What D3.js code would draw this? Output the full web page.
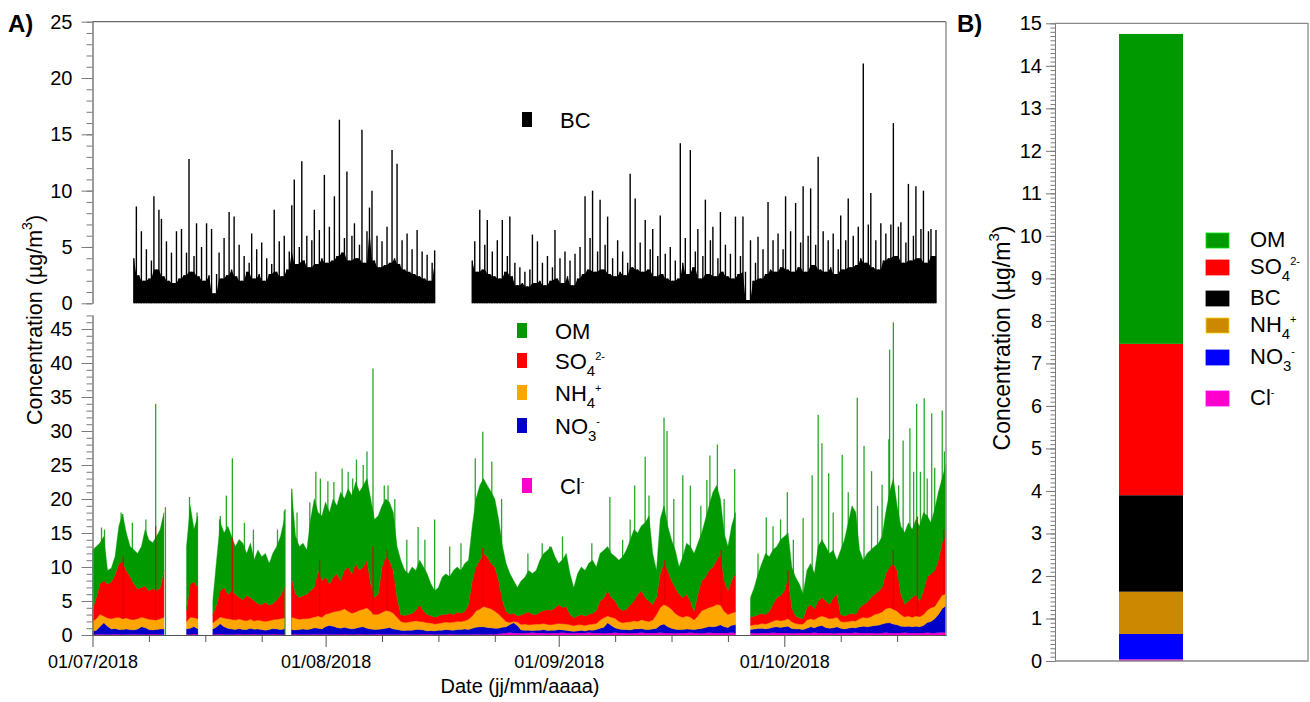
<!DOCTYPE html>
<html><head><meta charset="utf-8">
<script src="https://cdn.jsdelivr.net/npm/d3@7"></script>
<style>
body{margin:0;background:#fff;}
svg{display:block;}
</style></head><body>
<svg id="chart" width="1310" height="702"></svg>
<script>
// ---------------- DATA ----------------
const N = null;
const startDate = "2018-07-01";
const chemStepDays = 0.5;           // one value every 12 h, from 01/07/2018
// each line = 5 days (10 half-day values); null = no measurement
const om = [
 8.8,7.5,6.0,6.5,2.0,2.0,2.7,5.5,7.0,5.5,
 4.4,5.0,5.2,6.0,8.3,7.5,6.7,8.0,8.5,8.5,
 N,N,N,N,N,9.3,11.5,7.7,10.5,N,
 N,N,2.0,6.5,10.0,8.0,10.0,8.0,7.0,8.5,
 8.3,6.2,8.0,6.0,7.9,7.0,7.2,6.1,7.4,7.8,
 8.7,10.0,N,12.6,8.5,7.5,7.7,6.5,10.5,13.0,
 8.5,9.5,11.0,10.5,11.5,10.0,13.0,10.5,11.5,11.5,
 12.0,11.5,12.0,12.0,12.5,11.5,11.5,9.0,8.5,8.5,
 8.5,7.5,8.0,6.7,6.0,6.8,5.9,6.5,6.5,6.0,
 4.7,3.9,4.2,5.5,6.0,5.3,6.5,6.6,6.3,7.0,
 6.5,8.0,10.0,11.0,11.0,10.5,10.5,10.0,9.0,8.0,
 7.0,6.0,4.8,4.2,5.0,5.3,6.1,6.0,6.5,7.6,
 8.4,8.7,9.4,7.5,6.0,7.0,7.8,6.0,4.4,6.2,
 7.0,6.7,7.5,7.8,6.4,7.0,7.0,6.5,6.5,6.5,
 7.0,7.9,8.7,9.5,10.5,9.0,9.5,11.0,12.5,7.5,
 4.0,8.0,8.5,6.5,6.0,5.5,4.0,6.0,7.5,8.0,
 8.5,7.5,7.0,8.5,9.5,11.0,11.0,8.0,7.0,6.5,
 8.0,9.0,N,N,N,2.9,4.2,6.0,7.3,9.0,
 8.0,8.0,7.5,8.2,8.0,6.5,6.0,5.7,5.0,3.6,
 5.5,6.0,5.2,8.0,8.5,8.0,7.5,7.0,5.0,9.5,
 11.2,13.5,15.8,15.0,8.5,6.5,7.2,7.0,7.0,7.0,
 7.5,9.0,11.0,12.5,9.5,10.0,10.5,11.5,10.0,11.0,
 11.0,11.5,9.0,7.5,9.0,10.0,9.5,10.5
];
const so4 = [
 1.7,3.1,4.5,5.2,5.0,5.4,6.3,7.9,8.4,7.0,
 6.3,5.3,4.4,4.4,4.7,4.2,4.6,4.3,4.6,6.9,
 N,N,N,N,N,1.7,4.9,5.3,4.6,N,
 N,N,1.2,2.3,3.9,4.5,3.6,4.2,3.8,3.2,
 3.0,3.7,3.2,3.0,2.4,2.4,2.8,2.3,2.4,2.9,
 3.4,4.5,N,5.8,3.6,3.2,3.4,3.6,4.0,4.4,
 6.7,5.4,5.5,4.3,5.1,5.5,4.4,5.7,6.5,5.8,
 7.1,5.9,6.2,7.0,4.0,2.5,3.0,6.7,7.9,7.5,
 6.3,2.9,1.0,1.0,1.1,1.2,1.5,2.5,1.6,1.2,
 1.1,1.0,1.1,1.2,1.1,1.4,1.1,1.4,1.2,1.4,
 2.2,5.2,6.5,7.2,7.8,7.5,6.7,6.5,5.0,2.6,
 1.5,1.2,1.2,0.9,1.4,1.6,1.9,1.5,1.4,1.8,
 1.9,2.2,2.1,2.4,2.8,2.4,2.6,1.5,1.2,1.3,
 1.5,1.4,1.5,1.6,1.9,2.8,2.9,3.7,2.9,2.6,
 2.0,1.8,1.9,2.5,2.9,4.0,4.3,3.4,3.0,2.3,
 2.5,5.0,6.0,5.3,4.2,3.8,3.2,2.9,3.2,2.4,
 1.3,3.2,4.4,4.7,5.5,5.8,6.5,7.6,4.5,3.5,
 4.8,5.6,N,N,N,1.2,1.3,1.4,1.5,1.4,
 1.7,2.5,3.3,3.7,4.3,6.1,2.0,1.1,0.9,0.8,
 1.8,2.1,1.6,2.4,2.7,2.4,2.1,3.0,3.4,1.0,
 0.9,1.0,1.1,1.0,1.6,1.9,2.3,2.8,3.0,3.3,
 3.6,5.2,6.0,6.7,6.0,3.0,1.9,2.2,2.9,3.2,
 2.3,3.5,4.9,5.0,5.3,6.0,7.7,8.5
];
const nh4 = [
 1.4,1.7,1.8,1.0,1.2,1.5,1.6,1.8,1.6,1.6,
 1.5,1.5,1.5,1.4,1.4,1.5,1.5,1.4,1.5,1.7,
 N,N,N,N,N,1.1,1.6,1.3,1.5,N,
 N,N,0.9,1.0,1.0,1.3,1.4,1.4,1.4,1.4,
 1.4,1.3,1.3,1.2,1.3,1.3,1.3,1.3,1.3,1.4,
 1.6,1.6,N,1.8,1.7,1.5,1.5,1.6,1.6,1.6,
 1.8,1.7,1.8,1.8,2.1,2.4,2.6,2.7,2.5,2.3,
 2.4,2.5,2.6,3.0,2.6,2.2,2.2,2.4,2.6,2.4,
 2.3,1.8,1.3,1.2,1.2,1.3,1.3,1.2,1.2,1.2,
 1.1,1.0,1.0,1.1,1.1,1.1,1.2,1.2,1.2,1.2,
 1.5,1.8,2.4,2.6,3.0,2.9,2.8,2.5,2.1,1.4,
 0.8,0.3,0.2,0.5,0.8,0.9,0.8,0.9,0.9,0.9,
 0.9,0.9,0.8,0.9,0.9,0.9,0.9,0.9,0.8,0.9,
 0.8,0.8,0.8,0.9,0.9,1.2,1.4,1.0,1.2,1.4,
 1.1,1.0,1.1,1.2,1.2,1.1,1.3,1.3,1.2,1.3,
 2.0,2.6,2.9,3.0,2.8,2.3,2.0,1.8,1.9,1.8,
 1.4,1.9,2.6,2.7,2.8,3.0,3.2,2.9,2.3,1.9,
 1.8,1.9,N,N,N,0.6,0.6,0.6,0.7,0.7,
 0.8,0.9,1.0,1.0,1.0,1.1,1.0,0.8,0.7,0.8,
 1.2,1.2,1.2,1.3,1.4,1.5,1.4,1.4,1.4,1.0,
 1.0,1.0,1.0,1.0,1.2,1.3,1.3,1.4,1.6,1.7,
 1.8,2.1,2.2,2.2,2.0,1.7,1.4,1.5,1.4,1.5,
 1.5,1.6,1.8,2.0,1.8,2.0,2.0,1.8
];
const no3 = [
 0.5,0.6,1.1,1.7,1.2,0.8,0.8,0.7,0.7,0.8,
 0.7,0.6,0.8,1.1,1.0,0.7,0.6,0.7,0.8,0.8,
 N,N,N,N,N,0.8,0.9,1.1,0.8,N,
 N,N,0.8,1.1,1.5,1.1,0.9,0.8,0.7,0.8,
 0.7,0.7,0.9,0.7,0.8,0.7,0.6,0.7,0.8,0.8,
 0.7,0.8,N,0.7,0.6,0.7,0.8,0.7,0.8,0.9,
 0.9,0.8,1.1,1.3,1.2,1.0,0.9,1.0,0.9,0.8,
 0.9,1.0,1.1,0.9,0.8,0.7,0.7,0.8,0.9,1.0,
 0.8,0.7,0.6,0.5,0.6,0.6,0.7,0.7,0.6,0.5,
 0.5,0.5,0.6,0.6,0.7,0.6,0.6,0.7,0.7,0.8,
 0.7,0.9,1.0,1.1,1.1,1.0,0.9,0.9,0.8,0.9,
 0.9,1.2,1.5,1.1,0.5,0.4,0.4,0.3,0.4,0.4,
 0.5,0.4,0.4,0.4,0.5,0.4,0.4,0.3,0.3,0.3,
 0.4,0.3,0.4,0.4,0.5,0.7,0.9,1.5,1.1,0.7,
 0.6,0.5,0.5,0.5,0.6,0.6,0.6,0.5,0.5,0.6,
 0.7,1.1,1.3,0.9,0.7,0.6,0.5,0.5,0.6,0.5,
 0.5,0.6,0.7,0.8,0.9,0.9,1.0,1.2,0.9,0.8,
 1.1,1.2,N,N,N,0.5,0.6,0.7,0.7,0.6,
 0.7,0.8,0.9,0.8,0.9,1.0,0.7,0.6,0.6,0.5,
 0.7,0.9,0.7,1.0,1.1,0.8,0.7,0.8,0.9,0.7,
 0.6,0.7,0.8,0.7,0.9,1.0,0.9,1.0,1.1,1.2,
 1.3,1.4,1.5,1.3,1.2,1.0,0.9,1.0,0.9,1.0,
 0.9,1.1,1.5,1.7,2.1,2.7,3.5,3.9
];
const cl = [
 0.1,0.1,0.15,0.1,0.1,0.1,0.15,0.1,0.1,0.1,
 0.1,0.15,0.1,0.1,0.1,0.1,0.15,0.1,0.1,0.1,
 N,N,N,N,N,0.1,0.1,0.15,0.1,N,
 N,N,0.1,0.1,0.15,0.1,0.1,0.1,0.1,0.15,
 0.1,0.1,0.1,0.15,0.1,0.1,0.1,0.1,0.15,0.1,
 0.1,0.1,N,0.1,0.15,0.1,0.1,0.1,0.1,0.15,
 0.1,0.1,0.15,0.1,0.1,0.1,0.1,0.15,0.1,0.1,
 0.1,0.15,0.1,0.1,0.1,0.1,0.15,0.1,0.1,0.1,
 0.1,0.1,0.1,0.15,0.1,0.1,0.1,0.1,0.15,0.1,
 0.15,0.1,0.1,0.1,0.1,0.15,0.1,0.1,0.1,0.1,
 0.1,0.1,0.15,0.1,0.1,0.1,0.15,0.1,0.2,0.25,
 0.3,0.35,0.3,0.3,0.25,0.3,0.3,0.35,0.3,0.3,
 0.3,0.25,0.3,0.3,0.3,0.35,0.3,0.3,0.25,0.3,
 0.3,0.3,0.35,0.3,0.3,0.3,0.25,0.3,0.3,0.35,
 0.3,0.3,0.3,0.25,0.3,0.3,0.35,0.3,0.3,0.3,
 0.3,0.35,0.3,0.3,0.3,0.25,0.3,0.3,0.3,0.35,
 0.3,0.3,0.25,0.3,0.35,0.3,0.3,0.3,0.3,0.3,
 0.35,0.3,N,N,N,0.3,0.3,0.25,0.3,0.3,
 0.3,0.35,0.3,0.3,0.3,0.3,0.25,0.3,0.3,0.3,
 0.3,0.3,0.35,0.3,0.3,0.3,0.3,0.25,0.3,0.3,
 0.3,0.3,0.3,0.35,0.3,0.3,0.3,0.3,0.3,0.25,
 0.3,0.35,0.3,0.3,0.3,0.3,0.35,0.3,0.3,0.3,
 0.3,0.3,0.35,0.3,0.3,0.35,0.4,0.4
];
// sharp hourly maxima of the total (OM top), [day since 01/07, µg/m3]
const omPeaks = [
 [1.2,15.8],[1.6,15.5],[3.8,18],[4.0,17.8],[5.3,16.5],[7.1,17],[8.4,34],[9.7,18.8],
 [12.9,20.3],[13.9,18],
 [16.9,17],[17.0,17.5],[17.8,20.5],[18.6,26],[20.2,16.5],[21.4,15.5],[24.6,15.5],[25.5,18.2],[25.6,18.5],
 [26.5,21.5],[27.2,18],[28.9,19.5],[29.7,24],[30.3,23],[31.3,22.6],[32.1,22.5],[33.2,24.5],[34.0,24],[34.6,23],
 [35.1,25.8],[36.0,25],[36.5,27],[37.3,39.2],[38.8,22],[39.3,22],[40.2,20],[41.8,14],[43.3,15.9],[44.2,14],
 [45.5,17],[47.5,13],[49.0,13.5],[50.9,26],[51.9,29.9],[53.1,25.5],[54.4,20],[57.9,12],[59.8,13.5],[60.8,13],
 [62.5,14.5],[66.4,13.5],[68.8,20.3],[70.5,14],[71.5,17],[72.1,22],[73.5,26.2],[74.0,20.5],[76.0,32],[76.4,30],
 [77.3,20],[78.5,23.5],[79.5,22],[80.9,19],[81.7,22.8],[82.1,26.4],[83.1,28],[84.0,20],
 [85.4,24.4],[88.5,12],[89.6,17.3],[90.5,16],[91.5,17],[92.4,21],[93.2,14],[94.5,17.2],[95.7,23.5],[96.5,32.4],[97.0,28.2],[97.9,23.8],
 [98.5,18],[99.7,26.5],[100.5,21],[101.7,34.9],[102.6,27.8],[103.6,24.1],[104.4,19],[105.0,22.1],[105.9,28.8],[106.0,42],[106.5,46],
 [107.2,22],[107.8,28.6],[108.7,30.4],[109.2,24],[109.6,34],[110.1,24],[110.6,34.8],[111.0,23],[111.6,32.6],[112.0,24.6],[113.0,33],[113.3,27]];
const so4Peaks = [[4.1,11.5],[8.4,16],[18.6,14.3],[30.2,11],[37.3,13],[39.2,12.5],[51.9,12.8],[76.1,11],[83.6,12.5],[92.5,9.5],[106.5,12.5],[109.7,17.4],[113.2,15.5]];

// BC, one value every 8 h starting 06/07/2018 12:00
const bcStartDay = 5.5;
const bcStepDays = 1/3;
const bc = [
 4.0,8.6,2.5, 6.4,2.0,4.8, 2.2,3.8,9.5, 3.0,8.3,7.5, 2.4,5.5,2.0, 4.5,1.8,6.4, 2.2,6.6,2.5, 4.5,12.8,2.8, 4.2,7.1,2.4, 5.0,2.0,7.1,
 2.5,6.6,0.9, 2.6,4.5,2.2, 5.8,2.5,8.1, 3.0,7.7,2.4, 5.2,2.0,4.2, 2.8,3.6,6.2, 2.2,4.8,2.6, 5.4,2.0,4.0, 2.6,3.5,8.3, 2.8,5.5,2.4,
 6.0,3.0,4.6, 8.7,11.0,3.5, 5.0,12.6,3.8, 6.0,3.2,5.6, 8.3,3.5,6.5, 4.0,11.4,3.6, 6.8,3.8,9.5, 4.2,16.3,4.5, 5.8,11.7,3.8, 6.0,7.1,4.0,
 5.2,15.4,3.6, 6.4,8.5,10.0, 3.8,6.0,3.2, 5.5,3.4,6.8, 3.6,13.6,4.0, 12.4,3.5,5.6, 3.0,6.2,2.8, 4.8,2.6,6.5, 2.4,4.6,2.2, 4.3,2.0,3.6,
 4.7,
 N,N,N,N,N,N,N,N,N,N,N,N,N,N,
 3.8,5.5,2.8, 8.3,3.0,5.2, 7.4,2.6,4.6, 2.4,5.6,2.2, 7.4,2.8,4.2, 7.7,2.4,3.6, 1.6,3.2,1.8, 2.8,1.5,3.0, 6.1,1.8,5.5, 2.0,3.6,1.6,
 4.2,2.0,3.2, 6.5,2.2,4.0, 1.8,4.6,2.4, 3.8,1.6,4.4, 2.2,5.0,2.6, 9.5,3.0,5.8, 10.0,2.8,4.6, 9.2,3.0,5.2, 7.7,2.6,4.0, 2.4,5.6,2.8,
 4.6,2.5,3.6, 11.5,3.2,9.3, 3.0,5.4,2.8, 7.4,3.0,4.8, 6.6,2.4,4.2, 7.8,2.6,4.4, 2.2,5.0,2.0, 3.8,2.2,14.2, 3.6,5.8,2.6, 13.6,3.2,4.6,
 6.6,2.2,4.2, 9.2,2.6,5.6, 6.8,2.4,4.0, 8.1,2.8,5.2, 2.4,4.4,2.2, 7.7,2.6,4.2, 7.7,2.8,0.3, 5.6,2.0,3.6, 5.9,2.2,4.8, 2.6,9.0,3.0,
 5.6,2.8,6.2, 3.2,4.8,9.5, 3.0,6.4,2.8, 8.9,3.2,5.4, 10.4,2.8,6.0, 10.2,3.4,5.2, 13.0,3.0,6.4, 2.8,5.6,3.2, 6.2,2.6,4.8, 7.8,3.0,5.6,
 9.3,3.2,6.0, 3.4,6.8,4.0, 21.3,3.6,7.0, 9.8,3.2,5.6, 3.0,7.1,3.8, 6.2,4.0,7.0, 16.0,4.2,6.8, 7.2,3.6,5.4, 10.6,3.8,6.0, 10.4,4.0,6.6,
 10.0,3.6,6.4, 6.6,4.2,6.5
];

// panel B: campaign mean composition (bottom -> top)
const meanSpecies = ["Cl", "NO3", "NH4", "BC", "SO4", "OM"];
const meanValues  = [0.04, 0.595, 0.995, 2.27, 3.56, 7.29];

// axis ticks
const monthTicks = ["2018-07-01", "2018-08-01", "2018-09-01", "2018-10-01"];
const minorOffsetsDays = [7.5, 15, 22.5];
const endDay = 113.5;
const bcTicks = [0, 5, 10, 15, 20, 25];
const chemTicks = [0, 5, 10, 15, 20, 25, 30, 35, 40, 45];
const meanTicks = [0,1,2,3,4,5,6,7,8,9,10,11,12,13,14,15];

// ---------------- DRAWING ----------------
const FONT = "'Liberation Sans', Arial, Helvetica, sans-serif";
const svg = d3.select("#chart").attr("font-family", FONT);
const DAY = 864e5;
const t0 = Date.parse(startDate + "T00:00:00Z");
const toDate = d => new Date(t0 + d * DAY);

const x = d3.scaleUtc().domain([toDate(0), toDate(endDay)]).range([92.5, 946]);
const yTop = d3.scaleLinear().domain([0, 25]).range([303.3, 21.7]);
const yBot = d3.scaleLinear().domain([0, 47.06]).range([635, 315]);

const colA = {om: "#009900", so4: "#ff0000", nh4: "#ffa500", no3: "#0000c8", cl: "#ff00cc"};
const colB = {OM: "#009900", SO4: "#ff0000", BC: "#000000", NH4: "#cc8800", NO3: "#0000ff", Cl: "#ff00cc"};

// rich text helper (sub/superscripts)
function rich(sel, parts, fs) {
  let shift = 0;
  parts.forEach(p => {
    let target = 0, size = fs;
    if (p.sub) { target = 0.3 * fs; size = 0.68 * fs; }
    if (p.sup) { target = -0.42 * fs; size = 0.5 * fs; }
    sel.append("tspan").attr("dy", target - shift).attr("font-size", size).text(p.t);
    shift = target;
  });
}
const lab = {
  OM: [{t: "OM"}],
  SO4: [{t: "SO"}, {t: "4", sub: 1}, {t: "2-", sup: 1}],
  NH4: [{t: "NH"}, {t: "4", sub: 1}, {t: "+", sup: 1}],
  NO3: [{t: "NO"}, {t: "3", sub: 1}, {t: "-", sup: 1}],
  Cl: [{t: "Cl"}, {t: "-", sup: 1}],
  BC: [{t: "BC"}]
};

// --- BC (top): solid base (local minimum) + one thin stick per sample ---
const bcRows = bc.map((v, i) => {
  const nb = [bc[i - 1], v, bc[i + 1]].filter(u => u != null && u !== undefined);
  return {date: toDate(bcStartDay + i * bcStepDays), v, base: v == null ? null : d3.min(nb)};
});
svg.append("path").datum(bcRows)
  .attr("fill", "#000")
  .attr("d", d3.area().defined(d => d.v != null)
    .x(d => x(d.date)).y0(yTop(0)).y1(d => yTop(d.base)));
svg.append("g").selectAll("line").data(bcRows.filter(d => d.v != null)).join("line")
  .attr("x1", d => x(d.date)).attr("x2", d => x(d.date))
  .attr("y1", yTop(0)).attr("y2", d => yTop(d.v))
  .attr("stroke", "#000").attr("stroke-width", 1.4);

// --- chemical stack (bottom) ---
const keys = ["cl", "no3", "nh4", "so4", "om"];
const src = {cl, no3, nh4, so4, om};
const rows = om.map((_, i) => {
  const r = {date: toDate(i * chemStepDays)};
  keys.forEach(k => r[k] = src[k][i]);
  return r;
});
const stacked = d3.stack().keys(keys).value((d, k) => d[k] == null ? NaN : d[k])(rows);

// OM hourly peaks (behind the stack)
svg.append("g").selectAll("line").data(omPeaks).join("line")
  .attr("x1", d => x(toDate(d[0]))).attr("x2", d => x(toDate(d[0])))
  .attr("y1", yBot(0)).attr("y2", d => yBot(d[1]))
  .attr("stroke", colA.om).attr("stroke-width", 1.3).attr("stroke-opacity", 0.85);

const area = d3.area()
  .defined(d => !isNaN(d[0]) && !isNaN(d[1]))
  .x(d => x(d.data.date)).y0(d => yBot(d[0])).y1(d => yBot(d[1]));
svg.append("g").selectAll("path").data(stacked).join("path")
  .attr("fill", s => colA[s.key]).attr("stroke", s => colA[s.key]).attr("stroke-width", 0.4)
  .attr("d", area);

// SO4 hourly peaks
const nh4Layer = stacked.find(s => s.key === "nh4");
svg.append("g").selectAll("line").data(so4Peaks).join("line")
  .attr("x1", d => x(toDate(d[0]))).attr("x2", d => x(toDate(d[0])))
  .attr("y1", d => { const p = nh4Layer[Math.round(d[0] / chemStepDays)]; return yBot(p && !isNaN(p[1]) ? p[1] : 0); })
  .attr("y2", d => yBot(d[1]))
  .attr("stroke", "#e00000").attr("stroke-width", 1.3).attr("stroke-opacity", 0.85);

// --- axes panel A ---
function styleAxis(g, fs, col) {
  g.attr("font-family", FONT).attr("font-size", fs);
  g.select(".domain").attr("stroke", col);
  g.selectAll(".tick line").attr("stroke", col);
  g.selectAll(".tick text").attr("fill", "#000");
}
const xL = x.range()[0], xR = x.range()[1];
const unitTicks = (a, b, s) => d3.range(a, b + 1e-9, s);

svg.append("g").attr("transform", `translate(${xL},0)`)
  .call(d3.axisLeft(yTop).tickValues(unitTicks(0, 25, 1)).tickSize(6).tickFormat("").tickSizeOuter(0))
  .call(g => styleAxis(g, 19, "#7a7a7a"));
svg.append("g").attr("transform", `translate(${xL},0)`)
  .call(d3.axisLeft(yTop).tickValues(bcTicks).tickSize(11).tickPadding(9).tickSizeOuter(0))
  .call(g => styleAxis(g, 20, "#7a7a7a"));

svg.append("g").attr("transform", `translate(${xL},0)`)
  .call(d3.axisLeft(yBot).tickValues(unitTicks(0, 47, 1)).tickSize(6).tickFormat("").tickSizeOuter(0))
  .call(g => styleAxis(g, 19, "#7a7a7a"));
svg.append("g").attr("transform", `translate(${xL},0)`)
  .call(d3.axisLeft(yBot).tickValues(chemTicks).tickSize(11).tickPadding(9).tickSizeOuter(0))
  .call(g => styleAxis(g, 20, "#7a7a7a"));

// x axis
const monthDates = monthTicks.map(s => new Date(Date.parse(s + "T00:00:00Z")));
const minorDates = [];
monthDates.forEach(m => minorOffsetsDays.forEach(o => {
  const d = new Date(+m + o * DAY);
  if (d <= x.domain()[1]) minorDates.push(d);
}));
svg.append("g").attr("transform", `translate(0,${yBot(0)})`)
  .call(d3.axisBottom(x).tickValues(minorDates).tickSize(7).tickFormat("").tickSizeOuter(0))
  .call(g => styleAxis(g, 18, "#555"));
svg.append("g").attr("transform", `translate(0,${yBot(0)})`)
  .call(d3.axisBottom(x).tickValues(monthDates).tickSize(12).tickPadding(8)
    .tickFormat(d3.utcFormat("%d/%m/%Y")).tickSizeOuter(0))
  .call(g => styleAxis(g, 18, "#555"));

// frame panel A
svg.append("line").attr("x1", xL).attr("x2", xR).attr("y1", yTop(25)).attr("y2", yTop(25))
  .attr("stroke", "#444").attr("stroke-width", 1);
svg.append("line").attr("x1", xR).attr("x2", xR).attr("y1", yTop(25)).attr("y2", yBot(0))
  .attr("stroke", "#9a9a9a").attr("stroke-width", 1.6);

// titles panel A
svg.append("text").attr("x", 8).attr("y", 32).attr("font-size", 24).attr("font-weight", "bold").text("A)");
const yt = svg.append("text").attr("transform", "translate(41.5,320) rotate(-90)")
  .attr("text-anchor", "middle").attr("font-size", 21.5);
yt.append("tspan").text("Concentration (µg/m");
yt.append("tspan").attr("font-size", 14).attr("dy", -10).text("3");
yt.append("tspan").attr("dy", 10).text(")");
svg.append("text").attr("x", 520).attr("y", 693).attr("text-anchor", "middle")
  .attr("font-size", 20).text("Date (jj/mm/aaaa)");

// legends panel A
const legA = [
  {k: "BC", color: "#000", sx: 522, sy: 112, tx: 560},
  {k: "OM", color: colA.om, sx: 517, sy: 323, tx: 555},
  {k: "SO4", color: colA.so4, sx: 517, sy: 353, tx: 555},
  {k: "NH4", color: colA.nh4, sx: 517, sy: 385, tx: 555},
  {k: "NO3", color: colA.no3, sx: 517, sy: 418, tx: 555},
  {k: "Cl", color: colA.cl, sx: 522, sy: 478, tx: 560}
];
legA.forEach(l => {
  svg.append("rect").attr("x", l.sx).attr("y", l.sy).attr("width", 10).attr("height", 15).attr("fill", l.color);
  const t = svg.append("text").attr("x", l.tx).attr("y", l.sy + 16).attr("font-size", 22);
  rich(t, lab[l.k], 22);
});

// ---------------- PANEL B ----------------
const yB = d3.scaleLinear().domain([0, 15]).range([661, 23.3]);
const xB = d3.scaleBand().domain(["moyenne"]).range([1087, 1215]).paddingInner(0).paddingOuter(0.5);
const bL = 1055, bR = 1308;
const meanRow = {};
meanSpecies.forEach((k, i) => meanRow[k] = meanValues[i]);
const meanStack = d3.stack().keys(meanSpecies)([meanRow]);
svg.append("g").selectAll("rect").data(meanStack).join("rect")
  .attr("x", xB("moyenne")).attr("width", xB.bandwidth())
  .attr("y", s => yB(s[0][1])).attr("height", s => yB(s[0][0]) - yB(s[0][1]))
  .attr("fill", s => colB[s.key]);

svg.append("g").attr("transform", `translate(${bL},0)`)
  .call(d3.axisLeft(yB).tickValues(unitTicks(0, 15, 0.1)).tickSize(4.5).tickFormat("").tickSizeOuter(0))
  .call(g => styleAxis(g, 19, "#7a7a7a"));
svg.append("g").attr("transform", `translate(${bL},0)`)
  .call(d3.axisLeft(yB).tickValues(meanTicks).tickSize(9).tickPadding(4).tickSizeOuter(0))
  .call(g => styleAxis(g, 20, "#7a7a7a"));
svg.append("path")
  .attr("d", `M${bL},${yB(15)}H${bR}V${yB(0)}H${bL}`)
  .attr("fill", "none").attr("stroke", "#8a8a8a").attr("stroke-width", 1.3);

svg.append("text").attr("x", 957).attr("y", 32).attr("font-size", 24).attr("font-weight", "bold").text("B)");
const ytB = svg.append("text").attr("transform", "translate(1010,338) rotate(-90)")
  .attr("text-anchor", "middle").attr("font-size", 23);
ytB.append("tspan").text("Concentration (µg/m");
ytB.append("tspan").attr("font-size", 15).attr("dy", -11).text("3");
ytB.append("tspan").attr("dy", 11).text(")");

const legB = [
  {k: "OM", sy: 233}, {k: "SO4", sy: 260}, {k: "BC", sy: 291},
  {k: "NH4", sy: 318}, {k: "NO3", sy: 350}, {k: "Cl", sy: 391}
];
legB.forEach(l => {
  svg.append("rect").attr("x", 1206).attr("y", l.sy).attr("width", 23).attr("height", 15)
    .attr("fill", colB[l.k]).attr("stroke", d3.color(colB[l.k]).brighter(1.2)).attr("stroke-width", 0.8);
  const t = svg.append("text").attr("x", 1250).attr("y", l.sy + 14).attr("font-size", 22);
  rich(t, lab[l.k], 22);
});
</script>
</body></html>
